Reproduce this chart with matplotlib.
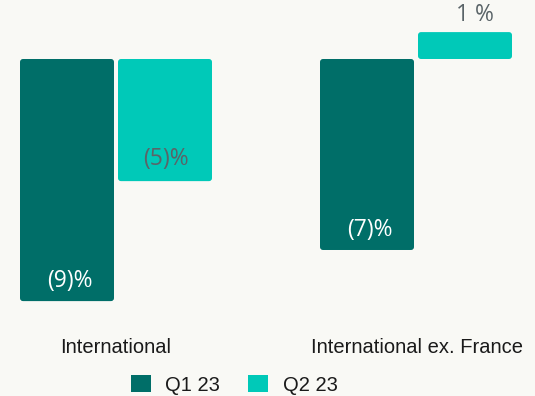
import matplotlib
matplotlib.use("Agg")
import matplotlib.pyplot as plt
from matplotlib.patches import FancyBboxPatch, Patch
import numpy as np

categories = ["International", "International ex. France"]
series_names = ["Q1 23", "Q2 23"]
q1_values = [-9.0, -7.1]
q2_values = [-4.54, 1.0]
q1_labels = ["(9)%", "(7)%"]
q2_labels = ["(5)%", "1 %"]

dark = "#006e68"
light = "#00c9b8"
bg = "#f9f9f5"
grey_txt = "#5a6468"

fig = plt.figure(figsize=(5.35, 3.96), dpi=100, facecolor=bg)
ax = fig.add_axes([0, 0, 1, 1])
ax.set_facecolor(bg)
px = 300.0  # pixels per category unit
ppu = 26.9  # pixels per value unit
x0 = 116.0
ax.set_xlim(-x0 / px, (535 - x0) / px)
ax.set_ylim(-(396 - 59) / ppu, 59 / ppu)
ax.axis("off")

x = np.arange(len(categories))
w = 94 / px
off = 49 / px

def rbar(xc, v, color):
    y0 = min(0, v)
    h = abs(v)
    p = FancyBboxPatch((xc - w / 2, y0), w, h,
                       boxstyle="round,pad=0,rounding_size=0.01",
                       mutation_aspect=px / ppu,
                       facecolor=color, edgecolor="none")
    ax.add_patch(p)

for i in range(len(categories)):
    rbar(x[i] - off, q1_values[i], dark)
    rbar(x[i] + off, q2_values[i], light)

vfont = dict(family=["Open Sans", "DejaVu Sans"], fontsize=16.5)
for i in range(len(categories)):
    ax.text(x[i] - off + 3 / px, q1_values[i] + 20 / ppu, q1_labels[i], color="white",
            ha="center", va="center", **vfont)
    v = q2_values[i]
    if v < 0:
        ax.text(x[i] + off + 1 / px, v + 22 / ppu, q2_labels[i], color=grey_txt,
                ha="center", va="center", **vfont)
    else:
        ax.text(x[i] + off + 10 / px, v + 17 / ppu, q2_labels[i], color=grey_txt,
                ha="center", va="center", **vfont)

lfont = dict(family=["Liberation Sans", "DejaVu Sans"], fontsize=14.5)
ax.text(x[0], -(347 - 59) / ppu, categories[0], ha="center", va="center",
        color="#1a1a1a", **lfont)
ax.text(x[1] + 1 / px, -(347 - 59) / ppu, categories[1], ha="center", va="center",
        color="#1a1a1a", **lfont)

handles = [Patch(facecolor=dark, edgecolor="none"), Patch(facecolor=light, edgecolor="none")]
leg = fig.legend(handles, series_names, loc="center left", bbox_to_anchor=(131 / 535, 1 - 385 / 396),
                 ncol=2, frameon=False, prop={"family": "Liberation Sans", "size": 14.5},
                 handlelength=1.0, handleheight=0.9, columnspacing=1.4, handletextpad=0.7,
                 borderpad=0, borderaxespad=0)
for t in leg.get_texts():
    t.set_color("#1a1a1a")

fig.savefig("out.png", dpi=100, facecolor=bg)
